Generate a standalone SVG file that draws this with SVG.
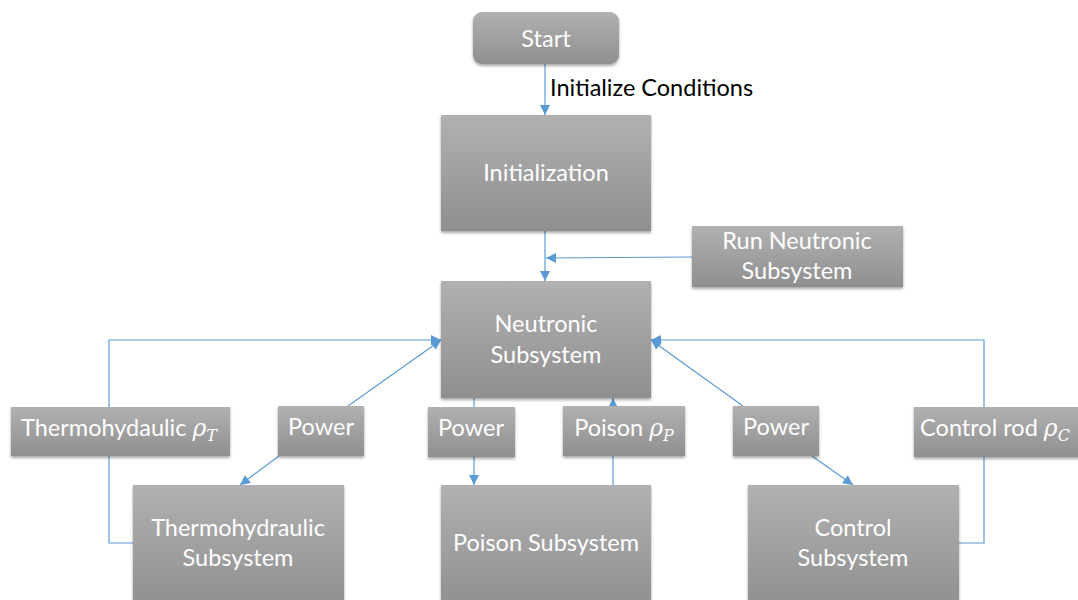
<svg xmlns="http://www.w3.org/2000/svg" width="1078" height="600" viewBox="0 0 1078 600">
  <defs>
    <linearGradient id="boxFill" x1="0" y1="0" x2="0" y2="1">
      <stop offset="0" stop-color="#b1b1b1"/>
      <stop offset="1" stop-color="#8f8f8f"/>
    </linearGradient>
    <filter id="shadow" x="-10%" y="-10%" width="120%" height="130%">
      <feDropShadow dx="0" dy="2" stdDeviation="1.5" flood-color="#000" flood-opacity="0.35"/>
    </filter>
    <marker id="arrow" viewBox="0 0 10 10" refX="10" refY="5" markerWidth="10" markerHeight="10" markerUnits="userSpaceOnUse" orient="auto">
      <path d="M0,0 L10,5 L0,10 z" fill="#5b9bd5"/>
    </marker>
    <style>
      .box { fill: url(#boxFill); filter: url(#shadow); }
      .lbl { font-family: Lato, "Open Sans", "Liberation Sans", sans-serif; font-size: 23.5px; fill: #ffffff; text-anchor: middle; }
      .math { font-family: "DejaVu Serif", "Liberation Serif", serif; font-style: italic; }
      .edge { fill: none; stroke: #5b9bd5; stroke-width: 1.2; }
      .note { font-family: Lato, "Open Sans", "Liberation Sans", sans-serif; font-size: 23.5px; fill: #000000; }
    </style>
  </defs>

  <!-- connectors -->
  <g id="connectors">
    <path class="edge" d="M545,64 L545,115" marker-end="url(#arrow)"/>
    <path class="edge" d="M545,231 L545,281" marker-end="url(#arrow)"/>
    <path class="edge" d="M692,257 L546,258" marker-end="url(#arrow)"/>
    <!-- thermohydraulic feedback loop -->
    <path class="edge" d="M133,543 L109,543 L109,340 L441,340" marker-end="url(#arrow)"/>
    <path class="edge" d="M348,406 L441,340" marker-end="url(#arrow)"/>
    <path class="edge" d="M279,456 L240,485" marker-end="url(#arrow)"/>
    <!-- poison -->
    <path class="edge" d="M474,398 L474,485" marker-end="url(#arrow)"/>
    <path class="edge" d="M613,485 L613,398" marker-end="url(#arrow)"/>
    <!-- control -->
    <path class="edge" d="M743,406 L651,340" marker-end="url(#arrow)"/>
    <path class="edge" d="M812,456 L853,485" marker-end="url(#arrow)"/>
    <path class="edge" d="M959,543 L984,543 L984,340 L651,340" marker-end="url(#arrow)"/>
    <text class="note" x="550" y="96">Initialize Conditions</text>
  </g>

  <g id="start">
    <rect class="box" x="473" y="12" width="146" height="52" rx="9"/>
    <text class="lbl" x="546" y="47">Start</text>
  </g>

  <g id="initialization">
    <rect class="box" x="441" y="115" width="210" height="116"/>
    <text class="lbl" x="546" y="181">Initialization</text>
  </g>

  <g id="run-neutronic">
    <rect class="box" x="692" y="226" width="211" height="61"/>
    <text class="lbl" x="797" y="249">Run Neutronic</text>
    <text class="lbl" x="797" y="279">Subsystem</text>
  </g>

  <g id="neutronic">
    <rect class="box" x="441" y="281" width="210" height="117"/>
    <text class="lbl" x="546" y="332">Neutronic</text>
    <text class="lbl" x="546" y="363">Subsystem</text>
  </g>

  <g id="thermo-reactivity">
    <rect class="box" x="11" y="407" width="219" height="49"/>
    <text class="lbl" x="119" y="436">Thermohydaulic <tspan class="math">ρ</tspan><tspan class="math" font-size="16" dy="5">T</tspan></text>
  </g>

  <g id="power-left">
    <rect class="box" x="278" y="406" width="86" height="50"/>
    <text class="lbl" x="321" y="435">Power</text>
  </g>

  <g id="power-mid">
    <rect class="box" x="428" y="407" width="87" height="50"/>
    <text class="lbl" x="471" y="436">Power</text>
  </g>

  <g id="poison-reactivity">
    <rect class="box" x="563" y="406" width="122" height="50"/>
    <text class="lbl" x="624" y="436">Poison <tspan class="math">ρ</tspan><tspan class="math" font-size="16" dy="5">P</tspan></text>
  </g>

  <g id="power-right">
    <rect class="box" x="733" y="406" width="86" height="50"/>
    <text class="lbl" x="776" y="435">Power</text>
  </g>

  <g id="control-reactivity">
    <rect class="box" x="914" y="407" width="170" height="50"/>
    <text class="lbl" x="995" y="436">Control rod <tspan class="math">ρ</tspan><tspan class="math" font-size="16" dy="5">C</tspan></text>
  </g>

  <g id="thermohydraulic">
    <rect class="box" x="133" y="485" width="211" height="125"/>
    <text class="lbl" x="238" y="536">Thermohydraulic</text>
    <text class="lbl" x="238" y="566">Subsystem</text>
  </g>

  <g id="poison">
    <rect class="box" x="441" y="485" width="210" height="125"/>
    <text class="lbl" x="546" y="551">Poison Subsystem</text>
  </g>

  <g id="control">
    <rect class="box" x="748" y="485" width="211" height="125"/>
    <text class="lbl" x="853" y="536">Control</text>
    <text class="lbl" x="853" y="566">Subsystem</text>
  </g>
</svg>
